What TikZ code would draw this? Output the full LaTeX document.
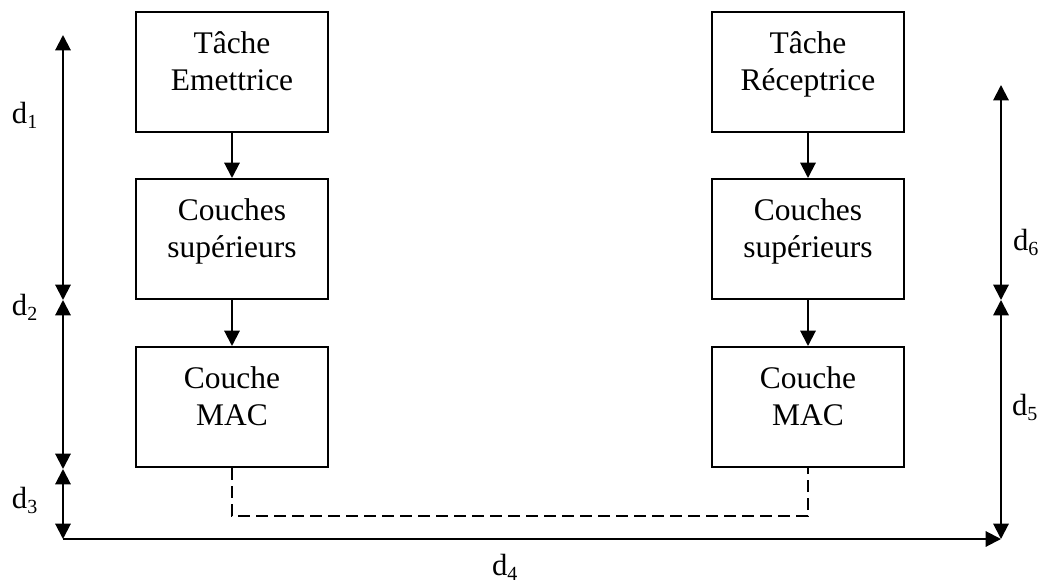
\documentclass[tikz,border=0pt]{standalone}
\usepackage{fontspec}
\setmainfont{Liberation Serif}
\usetikzlibrary{arrows.meta}
% distance label: d with a lowered index
\newcommand{\distlab}[2]{d\raisebox{-0.17em}{\fontsize{15pt}{15pt}\selectfont #2}}
\begin{document}
\begin{tikzpicture}[x=0.75pt, y=-0.75pt,
  line width=1.5pt,
  tip/.style={-{Triangle[length=11.5pt,width=11.5pt]}},
  bitip/.style={{Triangle[length=11.5pt,width=11.5pt]}-{Triangle[length=11.5pt,width=11.5pt]}},
  box/.style={draw, line width=1.5pt, minimum width=144pt, minimum height=90pt, inner sep=0pt},
  boxtext/.style={anchor=north, align=center, inner sep=0pt,
    font=\fontsize{23.6pt}{27.75pt}\selectfont},
  dlab/.style={anchor=base west, inner sep=0pt, font=\fontsize{23pt}{25pt}\selectfont},
  link/.style={dash pattern=on 9pt off 4.5pt, line width=1.5pt}]
\useasboundingbox (0,0) rectangle (1043,585);

% sending side
\node[box] (e1) at (232,72) {};
\node[box] (e2) at (232,239) {};
\node[box] (e3) at (232,407) {};
\node[boxtext] (te1) at ([yshift=-15pt]e1.north) {Tâche\\Emettrice};
\node[boxtext] (te2) at ([yshift=-15pt]e2.north) {Couches\\supérieurs};
\node[boxtext] (te3) at ([yshift=-15pt]e3.north) {Couche\\MAC};

% receiving side
\node[box] (r1) at (808,72) {};
\node[box] (r2) at (808,239) {};
\node[box] (r3) at (808,407) {};
\node[boxtext] (tr1) at ([yshift=-15pt]r1.north) {Tâche\\Réceptrice};
\node[boxtext] (tr2) at ([yshift=-15pt]r2.north) {Couches\\supérieurs};
\node[boxtext] (tr3) at ([yshift=-15pt]r3.north) {Couche\\MAC};

% vertical flow inside each stack
\draw[tip] (e1) -- (e2);
\draw[tip] (e2) -- (e3);
\draw[tip] (r1) -- (r2);
\draw[tip] (r2) -- (r3);

% physical link between the two MAC layers
\coordinate (m1) at (232,516);
\coordinate (m2) at (808,516);
\draw[link] (e3.south) -- (m1) -- (m2) -- (r3.south);

% dimension markers
\coordinate (L0) at (63,35);
\coordinate (L1) at (63,300);
\coordinate (L2) at (63,469);
\coordinate (L3) at (63,539);
\coordinate (R0) at (1001,85);
\coordinate (R1) at (1001,300);
\coordinate (R2) at (1001,539);

\draw[bitip] (L1) -- (L0);
\draw[bitip] (L1) -- (L2);
\draw[bitip] (L2) -- (L3);
\draw[tip] (L3) -- (R2);
\draw[bitip] (R1) -- (R2);
\draw[bitip] (R1) -- (R0);

\node[dlab] (lab1) at (11,123) {\distlab{d}{1}};
\node[dlab] (lab2) at (11,315) {\distlab{d}{2}};
\node[dlab] (lab3) at (11,508) {\distlab{d}{3}};
\node[dlab] (lab4) at (491,575) {\distlab{d}{4}};
\node[dlab] (lab5) at (1011,415) {\distlab{d}{5}};
\node[dlab] (lab6) at (1012,250) {\distlab{d}{6}};
\end{tikzpicture}
\end{document}
